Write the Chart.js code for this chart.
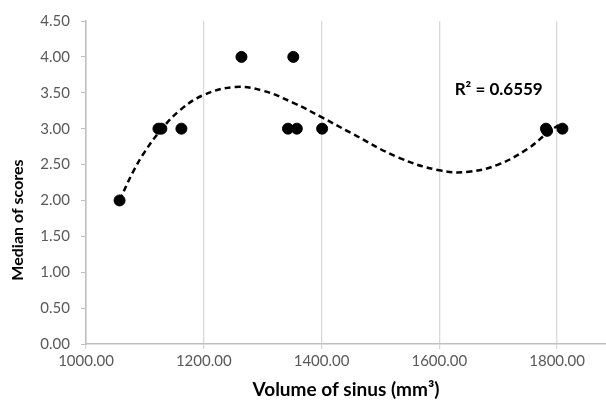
<!DOCTYPE html>
<html>
<head>
<meta charset="utf-8">
<script src="https://cdn.jsdelivr.net/npm/chart.js@4.4.0/dist/chart.umd.min.js"></script>
<style>
  html, body { margin: 0; padding: 0; background: #fff; }
  #wrap { width: 606px; height: 405px; position: relative; }
</style>
</head>
<body>
<div id="wrap"><canvas id="sinusChart"></canvas></div>
<script>
// observed points (volume in mm3, median score)
const volumes = [1057, 1123, 1128, 1162, 1264, 1343, 1352, 1358, 1401, 1781, 1783, 1809];
const medians = [2.0, 3.0, 3.0, 3.0, 4.0, 3.0, 4.0, 3.0, 3.0, 3.0, 2.97, 3.0];

// polynomial trendline
const trendX = [1057, 1080, 1100, 1127, 1160, 1200, 1253, 1300, 1352, 1400, 1450, 1530, 1600, 1650, 1700, 1750, 1785, 1808];
const trendY = [2.0, 2.4, 2.68, 2.98, 3.26, 3.47, 3.58, 3.53, 3.36, 3.16, 2.94, 2.6, 2.42, 2.4, 2.5, 2.72, 2.95, 3.08];

const yTicks = [0, 0.5, 1, 1.5, 2, 2.5, 3, 3.5, 4, 4.5];
const xTicks = [1000, 1200, 1400, 1600, 1800];
const rSquaredLabel = 'R² = 0.6559';

const FONT = 'Lato, Open Sans, sans-serif';

const extraText = {
    id: 'extraText',
    afterDraw(chart) {
        const ctx = chart.ctx;
        const x = chart.scales.x, y = chart.scales.y;
        ctx.save();
        ctx.fillStyle = '#000';
        // R squared label
        ctx.font = 'bold 17px ' + FONT;
        ctx.textAlign = 'left';
        ctx.textBaseline = 'middle';
        ctx.fillText(rSquaredLabel, x.getPixelForValue(1626), y.getPixelForValue(3.54));
        // y axis title
        ctx.font = 'bold 16px ' + FONT;
        ctx.translate(18, 220);
        ctx.rotate(-Math.PI / 2);
        ctx.textAlign = 'center';
        ctx.fillText('Median of scores', 0, 0);
        ctx.restore();
    }
};

new Chart(document.getElementById('sinusChart'), {
    type: 'scatter',
    data: {
        datasets: [
            {
                label: 'points',
                data: volumes.map((v, i) => ({ x: v, y: medians[i] })),
                backgroundColor: '#000',
                borderColor: '#000',
                pointRadius: 5.5,
                order: 1
            },
            {
                label: 'trend',
                data: trendX.map((v, i) => ({ x: v, y: trendY[i] })),
                showLine: true,
                borderColor: '#000',
                borderWidth: 2.5,
                borderDash: [6, 4],
                pointRadius: 0,
                tension: 0.4,
                order: 2
            }
        ]
    },
    options: {
        responsive: true,
        maintainAspectRatio: false,
        animation: false,
        layout: { autoPadding: false, padding: { top: 21, right: 0, left: 0, bottom: 0 } },
        plugins: {
            legend: { display: false },
            tooltip: { enabled: false }
        },
        scales: {
            x: {
                type: 'linear',
                min: 1000,
                max: 1883,
                afterBuildTicks: (s) => { s.ticks = xTicks.map(v => ({ value: v })); },
                afterFit: (s) => { s.height = 61; },
                ticks: {
                    color: '#595959',
                    font: { family: FONT, size: 15 },
                    padding: 3,
                    maxRotation: 0,
                    callback: (v) => v.toFixed(2)
                },
                grid: { color: '#d9d9d9', lineWidth: 1.3, tickLength: 5 },
                border: { color: '#bfbfbf', width: 1.5 },
                title: {
                    display: true,
                    text: 'Volume of sinus (mm³)',
                    color: '#000',
                    font: { family: FONT, size: 19, weight: 'bold' },
                    padding: { top: 8 }
                }
            },
            y: {
                min: 0,
                max: 4.5,
                afterBuildTicks: (s) => { s.ticks = yTicks.map(v => ({ value: v })); },
                afterFit: (s) => { s.width = 86; },
                ticks: {
                    color: '#595959',
                    font: { family: FONT, size: 15 },
                    padding: 11,
                    callback: (v) => v.toFixed(2)
                },
                grid: { drawOnChartArea: false, color: '#bfbfbf', tickLength: 5 },
                border: { color: '#bfbfbf', width: 1.5 }
            }
        }
    },
    plugins: [extraText]
});
</script>
</body>
</html>
